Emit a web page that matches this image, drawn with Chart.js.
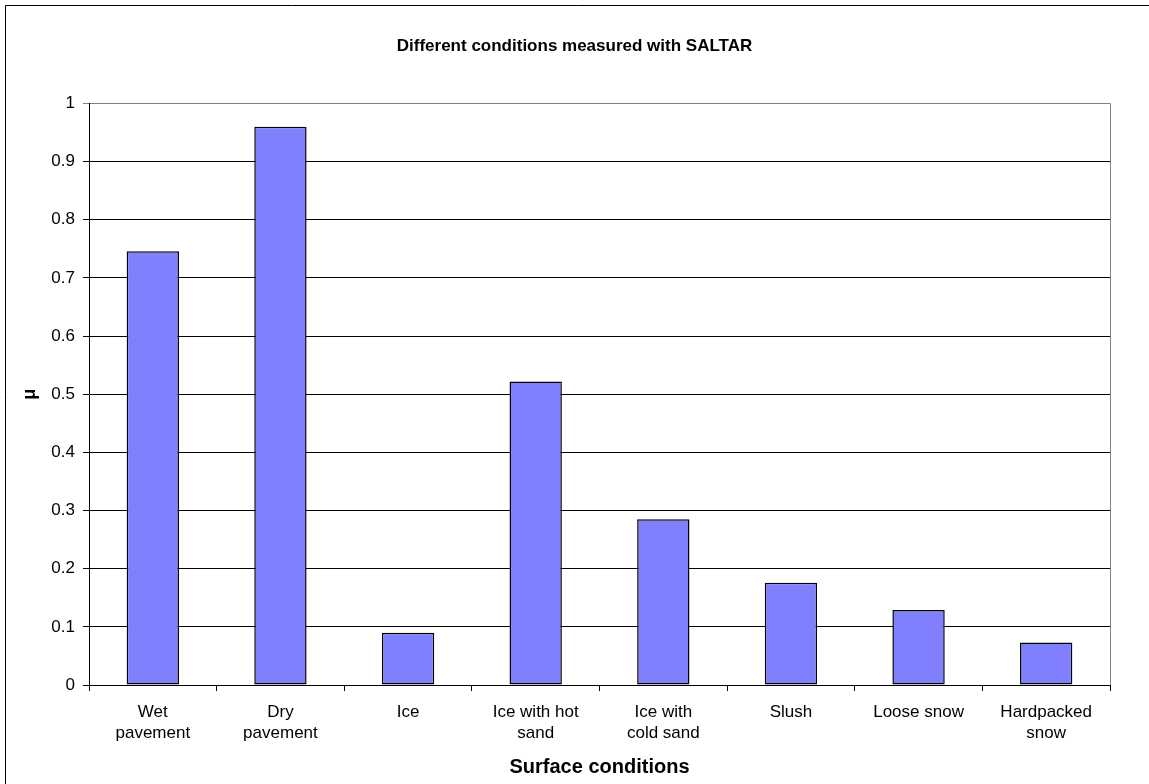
<!DOCTYPE html>
<html>
<head>
<meta charset="utf-8">
<script src="https://cdn.jsdelivr.net/npm/chart.js@4/dist/chart.umd.min.js"></script>
<style>
html,body{margin:0;padding:0;background:#fff;}
#wrap{width:1149px;height:784px;position:relative;}
canvas{display:block;}
</style>
</head>
<body>
<div id="wrap"><canvas id="c" width="1149" height="784"></canvas></div>
<script>
const categories = [["Wet","pavement"],["Dry","pavement"],"Ice",["Ice with hot","sand"],["Ice with","cold sand"],"Slush","Loose snow",["Hardpacked","snow"]];
const frictionValues = [0.746, 0.96, 0.09, 0.522, 0.285, 0.176, 0.129, 0.073];
const yTickValues = [0, 0.1, 0.2, 0.3, 0.4, 0.5, 0.6, 0.7, 0.8, 0.9, 1];
const chartTitle = "Different conditions measured with SALTAR";
const xTitle = "Surface conditions";
const yTitle = "\u03bc";

const FONT = "'Liberation Sans', Arial, sans-serif";

const framePlugin = {
  id: 'frame',
  beforeDraw(chart) {
    const ctx = chart.ctx;
    ctx.save();
    ctx.fillStyle = '#fff';
    ctx.fillRect(0, 0, chart.width, chart.height);
    ctx.restore();
  },
  afterDraw(chart) {
    const ctx = chart.ctx;
    const a = chart.chartArea;
    ctx.save();
    ctx.lineWidth = 1;
    ctx.strokeStyle = '#000';
    ctx.beginPath();
    ctx.moveTo(5.5, chart.height);
    ctx.lineTo(5.5, 5.5);
    ctx.lineTo(chart.width, 5.5);
    ctx.stroke();
    ctx.strokeStyle = '#808080';
    ctx.beginPath();
    ctx.moveTo(Math.round(a.right) + 0.5, a.top);
    ctx.lineTo(Math.round(a.right) + 0.5, a.bottom);
    ctx.stroke();
    ctx.restore();
  }
};

new Chart(document.getElementById('c'), {
  type: 'bar',
  data: {
    labels: categories,
    datasets: [{
      data: frictionValues,
      backgroundColor: '#8080FF',
      borderColor: '#000',
      borderWidth: 1.5,
      borderSkipped: false,
      categoryPercentage: 1,
      barPercentage: 0.41
    }]
  },
  options: {
    responsive: false,
    animation: false,
    devicePixelRatio: 1,
    layout: { padding: { left: 0, right: 0, top: 0, bottom: 0 } },
    plugins: {
      legend: { display: false },
      tooltip: { enabled: false },
      title: {
        display: true,
        text: chartTitle,
        color: '#000',
        font: { family: FONT, size: 17, weight: 'bold', lineHeight: 1.2 },
        padding: { top: 36, bottom: 47 }
      }
    },
    scales: {
      x: {
        grid: { display: true, drawOnChartArea: false, drawTicks: true, tickLength: 6, color: '#000', offset: true },
        border: { display: true, color: '#000' },
        ticks: { color: '#000', font: { family: FONT, size: 17, lineHeight: 1.28 }, padding: 10, maxRotation: 0, autoSkip: false },
        title: { display: true, text: xTitle, color: '#000', font: { family: FONT, size: 20, weight: 'bold', lineHeight: 1.2 }, padding: { top: 0, bottom: 5 } },
        afterFit(scale) { scale.height = 99; }
      },
      y: {
        position: 'left',
        min: 0,
        max: 1,
        afterBuildTicks(scale) { scale.ticks = yTickValues.map(v => ({ value: v })); },
        grid: {
          drawTicks: true,
          tickLength: 6,
          color: (ctx) => (ctx.tick && ctx.tick.value === 1) ? '#808080' : '#000'
        },
        border: { display: true, color: '#000' },
        ticks: { color: '#000', font: { family: FONT, size: 17 }, padding: 8, callback: (v) => String(v) },
        title: { display: true, text: yTitle, color: '#000', font: { family: FONT, size: 18, weight: 'bold', lineHeight: 1.2 }, padding: { top: 19, bottom: 0 } },
        afterFit(scale) { scale.width = 89; }
      },
      yRight: {
        type: 'linear',
        position: 'right',
        display: true,
        min: 0,
        max: 1,
        grid: { display: false, drawTicks: false },
        border: { display: false },
        ticks: { display: false },
        afterFit(scale) { scale.width = 39; }
      }
    }
  },
  plugins: [framePlugin]
});
</script>
</body>
</html>
